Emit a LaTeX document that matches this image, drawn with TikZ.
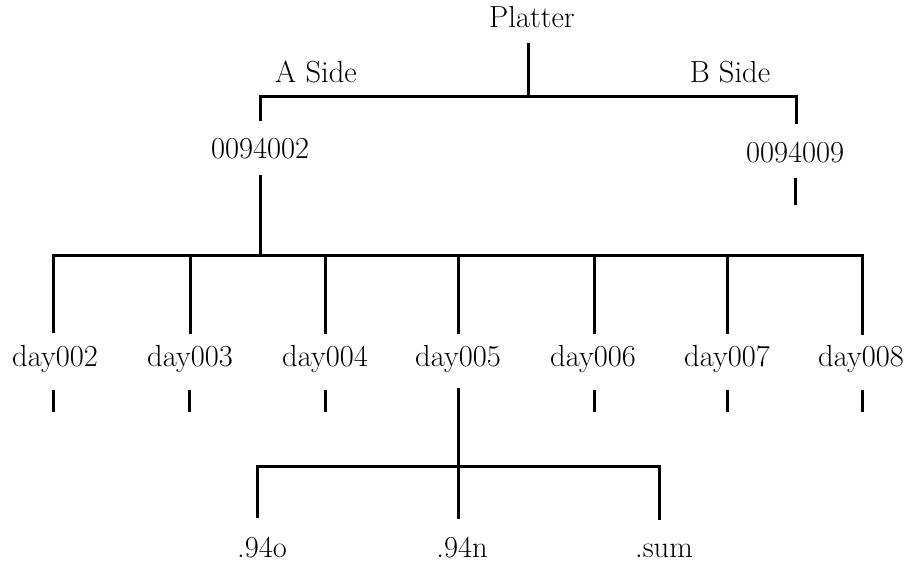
\documentclass[tikz,border=0pt]{standalone}
\begin{document}
\begin{tikzpicture}[x=1pt,y=-1pt,
  lbl/.style={anchor=base,inner sep=0pt,font=\fontsize{30.5}{36}\selectfont},
  ln/.style={line width=3pt}]
\useasboundingbox (0,0) rectangle (913,567);
% labels
\node[lbl] (platter) at (532,28) {Platter};
\node[lbl] (aside) at (316,83) {A Side};
\node[lbl] (bside) at (730,83) {B Side};
\node[lbl] (p2) at (260,158) {0094002};
\node[lbl] (p9) at (795,162) {0094009};
\node[lbl] (d2) at (55,366) {day002};
\node[lbl] (d3) at (190,366) {day003};
\node[lbl] (d4) at (325,366) {day004};
\node[lbl] (d5) at (458,366) {day005};
\node[lbl] (d6) at (593,366) {day006};
\node[lbl] (d7) at (727,366) {day007};
\node[lbl] (d8) at (861,366) {day008};
\node[lbl] (fo) at (262,557) {.94o};
\node[lbl] (fn) at (462,557) {.94n};
\node[lbl] (fs) at (664,557) {.sum};
% connector end points
\coordinate (plb) at (528,43);
\coordinate (jtop) at (528,97);
\coordinate (ta) at (260,121);
\coordinate (tb) at (796,124);
\coordinate (p2b) at (260,175);
\coordinate (jday) at (260,255);
\coordinate (p9t) at (795,178);
\coordinate (p9e) at (795,205);
\coordinate (jfile) at (458,466);
% top level
\draw[ln] (plb) -- (jtop);
\draw[ln] (ta) -- (ta |- jtop) -- (tb |- jtop) -- (tb);
\draw[ln] (p9t) -- (p9e);
% day level
\draw[ln] (p2b) -- (jday);
\draw[ln] (53,333) -- (53,255) -- (862,255) -- (862,335);
\foreach \x in {190,325,458,594,727}{\draw[ln] (\x,255) -- (\x,334);}
\foreach \x in {53,189,325,594,727,862}{\draw[ln] (\x,390) -- (\x,412);}
\draw[ln] (458,388) -- (jfile);
% file level
\draw[ln] (257,518) -- (257,466) -- (659,466) -- (659,520);
\draw[ln] (jfile) -- (458,519);
\end{tikzpicture}
\end{document}
